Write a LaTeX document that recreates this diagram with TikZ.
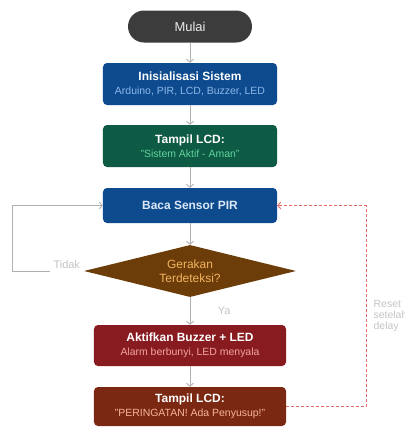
\documentclass[tikz,border=0pt]{standalone}
\usepackage{fontspec}
\setmainfont{Liberation Sans}
\usepackage{xcolor}
\usetikzlibrary{positioning, shapes.geometric, arrows.meta}

\definecolor{startgray}{HTML}{3C3C3C}
\definecolor{initblue}{HTML}{0E4B8E}
\definecolor{initsub}{HTML}{8DB8EA}
\definecolor{lcdgreen}{HTML}{0D5A45}
\definecolor{lcdsub}{HTML}{62D49C}
\definecolor{pirtext}{HTML}{DCE8F6}
\definecolor{cekbrown}{HTML}{6C3D09}
\definecolor{cektext}{HTML}{F2B35E}
\definecolor{alarmred}{HTML}{881B1F}
\definecolor{alarmsub}{HTML}{F2A3A3}
\definecolor{warnbrown}{HTML}{7B2812}
\definecolor{warnsub}{HTML}{F6B49C}
\definecolor{flowgray}{HTML}{B0B0B0}
\definecolor{notegray}{HTML}{C4C4C4}
\definecolor{resetred}{HTML}{E46A6A}

\newcommand{\subline}[2]{{\fontsize{10.5}{14}\selectfont\color{#1}#2}}

\begin{document}
\begin{tikzpicture}[x=1bp, y=-1bp,
  every node/.style={font=\fontsize{12}{14}\selectfont},
  box/.style={rectangle, rounded corners=4bp, minimum width=174bp, minimum height=42bp,
    align=center, inner sep=2bp, text=white},
  flow/.style={draw=flowgray, line width=0.9bp, -{Straight Barb[length=3bp,width=7bp]}},
  resetline/.style={draw=resetred, line width=0.9bp, dash pattern=on 3bp off 2bp,
    -{Straight Barb[length=3bp,width=7bp]}},
  note/.style={text=notegray, font=\fontsize{11}{11}\selectfont}]
\useasboundingbox (0,0) rectangle (405,427);
% Start
\node[fill=startgray, rounded corners=16bp, minimum width=124bp, minimum height=32bp,
  text=white!92!black, font=\fontsize{13}{14}\selectfont] (mulai) at (190,26.5) {Mulai};
% Initialisation and first LCD message
\node[box, fill=initblue] (init) at (190,84)
  {\textbf{Inisialisasi Sistem}\\\subline{initsub}{Arduino, PIR, LCD, Buzzer, LED}};
\node[box, fill=lcdgreen] (lcdaman) at (190,146)
  {\textbf{Tampil LCD:}\\\subline{lcdsub}{"Sistem Aktif - Aman"}};
% Sensor reading
\node[box, fill=initblue, minimum height=35bp, text=pirtext] (baca) at (190,205.5)
  {\textbf{Baca Sensor PIR}};
% Decision
\node[diamond, aspect=4, inner sep=0pt, fill=cekbrown, minimum width=212bp,
  minimum height=52bp, text=cektext, align=center] (gerak) at (190,271)
  {Gerakan\\Terdeteksi?};
% Alarm and warning message
\node[box, fill=alarmred, minimum width=192bp, minimum height=41bp] (alarm) at (190,345.5)
  {\textbf{Aktifkan Buzzer + LED}\\\subline{alarmsub}{Alarm berbunyi, LED menyala}};
\node[box, fill=warnbrown, minimum width=192bp, minimum height=39bp] (lcdpr) at (190,406.5)
  {\textbf{Tampil LCD:}\\\subline{warnsub}{"PERINGATAN! Ada Penyusup!"}};
% Main flow
\foreach \a/\b in {mulai/init, init/lcdaman, lcdaman/baca, baca/gerak, alarm/lcdpr} {
  \draw[flow] (\a) -- (\b);
}
\draw[flow] (gerak) -- node[note, midway, right=24bp] {Ya} (alarm);
% No motion: back to the sensor
\draw[flow] (gerak.west) -- node[note, pos=0.24, fill=white, inner xsep=4bp,
  inner ysep=5bp, yshift=6bp] {Tidak} ++(-71,0) |- (baca.west);
% Reset after delay
\draw[resetline] (lcdpr.east) -- ++(80,0) |- node[note, pos=0.225, right=7bp,
  inner sep=0pt, align=left, font=\fontsize{10.5}{11}\selectfont] {Reset\\setelah\\delay} (baca.east);
\end{tikzpicture}
\end{document}
